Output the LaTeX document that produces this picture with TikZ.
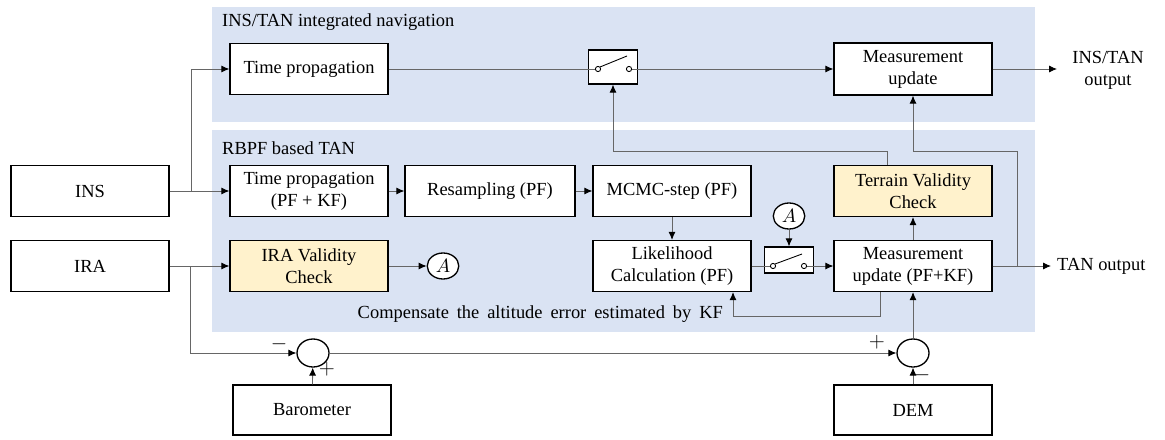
\documentclass[tikz,border=0pt]{standalone}
\usepackage{fontspec}
\setmainfont{Liberation Serif}
\usetikzlibrary{calc,positioning,arrows.meta,shapes.geometric}
\definecolor{panelblue}{RGB}{218,227,243}
\definecolor{checkyellow}{RGB}{255,242,204}

\begin{document}
\begin{tikzpicture}[x=0.02cm, y=-0.02cm,
  font=\fontsize{10.5}{12.5}\selectfont,
  block/.style={draw, line width=0.75pt, fill=white, align=center, inner sep=1pt,
    minimum width=3.16cm, minimum height=1.02cm},
  check/.style={block, fill=checkyellow},
  switchbox/.style={draw, line width=0.75pt, fill=white, minimum width=0.98cm, inner sep=0pt},
  sumnode/.style={draw, ellipse, line width=0.75pt, fill=white, inner sep=0pt,
    minimum width=0.64cm, minimum height=0.56cm},
  tag/.style={draw, ellipse, line width=0.75pt, fill=white, inner sep=0pt,
    minimum width=0.63cm, minimum height=0.52cm},
  sign/.style={inner sep=0pt, font=\fontsize{12}{12}\selectfont},
  wire/.style={draw=black!60, line width=0.5pt},
  arr/.style={wire, -{Latex[length=4.5pt,width=4pt,black]}},
  ]
\useasboundingbox (0,0) rectangle (1165,439);

% panels
\fill[panelblue] (212,7) rectangle (1035,122);
\fill[panelblue] (212,130) rectangle (1035,332);
\node[anchor=west] (navTitle) at (216,22) {INS/TAN integrated navigation};
\node[anchor=west] (tanTitle) at (216,148) {RBPF based TAN};

% integrated navigation
\node[block] (tpTop) at (309,69) {Time propagation};
\node[switchbox, minimum height=0.68cm] (swT) at (613,67) {};
\node[block, minimum height=1.04cm] (muT) at (913,69) {Measurement\\update};
\node[align=center] (navOut) at (1108,70) {INS/TAN\\output};

% sensors
\node[block] (ins) at (90,191) {INS};
\node[block] (ira) at (90,266) {IRA};
\node[block, minimum height=1.0cm] (baro) at (312,410) {Barometer};
\node[block, minimum height=1.0cm] (dem) at (913,410) {DEM};

% RBPF
\node[block] (tpB) at (309,191) {Time propagation\\(PF + KF)};
\node[block, minimum width=3.4cm] (resamp) at (490,191) {Resampling (PF)};
\node[block] (mcmc) at (672,191) {MCMC-step (PF)};
\node[check] (chkTer) at (913,191) {Terrain Validity\\Check};
\node[check] (chkIRA) at (309,266) {IRA Validity\\Check};
\node[tag] (tagIn) at (443,266) {$A$};
\node[block] (lik) at (672,266) {Likelihood\\Calculation (PF)};
\node[switchbox, minimum height=0.52cm] (swB) at (789,260) {};
\node[tag] (tagSw) at (789,216) {$A$};
\node[block] (muB) at (913,266) {Measurement\\update (PF+KF)};
\node[anchor=west] (tanOut) at (1051,266) {TAN output};
\node[anchor=east] (kfNote) at (729,314)
  {\spaceskip=4.5pt plus 1pt\relax Compensate the altitude error estimated by KF};

% altitude sums
\node[sumnode] (sumBaro) at (313,353) {};
\node[sumnode] (sumDem) at (913,353) {};
\node[sign] at (279,344) {$-$};
\node[sign] at (327,369) {$+$};
\node[sign] at (877,342) {$+$};
\node[sign] at (922,375) {$-$};

% switch contacts
\foreach \n/\x/\y in {swT/598/69, swB/773/266} {
  \coordinate (\n-in) at (\x,\y);
  \coordinate (\n-out) at (\x+31,\y);
}

% connections
\coordinate (insJ) at (191,191);
\draw[wire] (ins.east) -- (insJ);
\draw[arr] (insJ) |- (tpTop.west);
\draw[arr] (insJ) -- (tpB.west);
\draw[wire] (tpTop.east) -- (swT-in);
\draw[arr] (swT-out) -- (muT.west);
\coordinate (navOutEnd) at (1057,69);
\draw[arr] (muT.east) -- (navOutEnd);

\draw[arr] (tpB) -- (resamp);
\draw[arr] (resamp) -- (mcmc);
\draw[arr] (mcmc) -- (lik);
\draw[wire] (lik.east) -- (swB-in);
\draw[arr] (swB-out) -- (muB.west);
\draw[arr] (tagSw) -- (swB);
\draw[arr] (muB) -- (chkTer);
\draw[arr] ($(chkTer.north)+(-26,0)$) -- ++(0,-13) -| (swT.south);
\draw[arr] (muB.east) -- (tanOut.west);
\coordinate (fbJ) at (1017,266);
\draw[arr] (fbJ) -- ++(0,-115) -| (muT.south);
\coordinate (kfTurn) at (733,316);
\draw[arr] ($(muB.south)+(-33,0)$) |- (kfTurn) -- (kfTurn |- lik.south);

\coordinate (iraJ) at (190,266);
\draw[arr] (ira) -- (chkIRA);
\draw[arr] (chkIRA) -- (tagIn);
\draw[arr] (iraJ) |- (sumBaro.west);
\draw[arr] (baro) -- (sumBaro);
\draw[arr] (sumBaro) -- (sumDem);
\draw[arr] (dem) -- (sumDem);
\draw[arr] (sumDem) -- (muB);

% switch levers
\foreach \n/\x/\y/\t in {swT/598/69/56, swB/773/266/254} {
  \draw[line width=0.5pt] (\x+2,\y-2) -- (\x+29,\t);
  \draw[line width=0.5pt, fill=white] (\n-in) circle[radius=2.6];
  \draw[line width=0.5pt, fill=white] (\n-out) circle[radius=2.6];
}
\end{tikzpicture}
\end{document}
